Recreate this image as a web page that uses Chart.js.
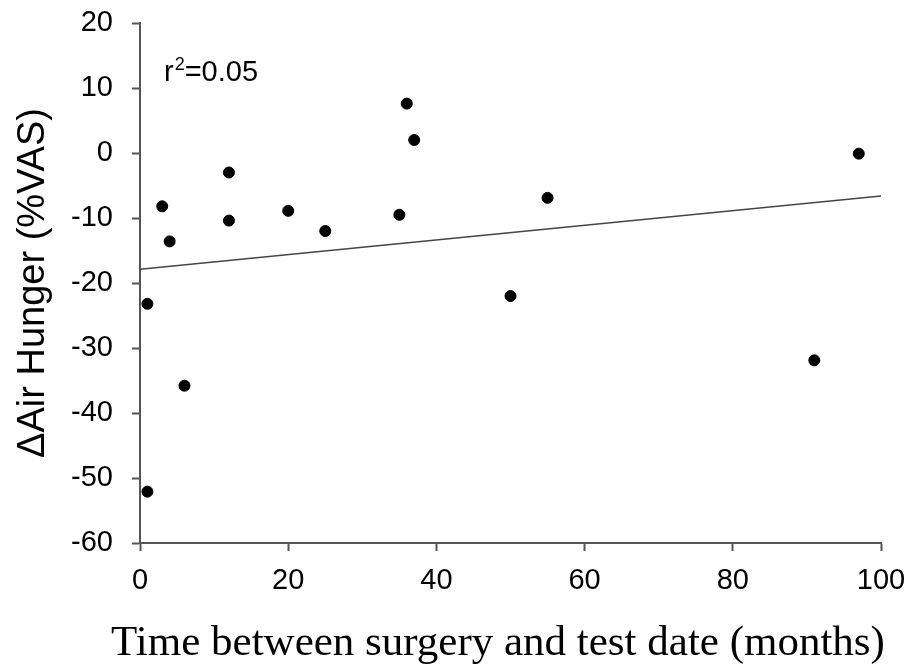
<!DOCTYPE html>
<html>
<head>
<meta charset="utf-8">
<script src="https://cdn.jsdelivr.net/npm/chart.js@4"></script>
<style>
  html, body { margin: 0; padding: 0; background: #fff; }
  #wrap { width: 914px; height: 671px; }
</style>
</head>
<body>
<div id="wrap"><canvas id="scatter" width="914" height="671"></canvas></div>
<script>
// --- Data ---
const months = [1, 1, 3, 4, 6, 12, 12, 20, 25, 35, 36, 37, 50, 55, 91, 97];
const deltaAirHunger = [-23.2, -52.1, -8.2, -13.6, -35.8, -3.0, -10.4, -8.9, -12.0, -9.5, 7.6, 2.0, -22.0, -6.9, -31.9, -0.1];
const fitEnds = [0, 100];
const fitValues = [-17.9, -6.6];
const xTicks = [0, 20, 40, 60, 80, 100];
const yTicks = [20, 10, 0, -10, -20, -30, -40, -50, -60];
const rSquaredLabel = '0.05';
const xTitle = 'Time between surgery and test date (months)';

const axisColor = '#555555';

// r² annotation (with superscript) and the x-axis title, which in the
// original is wider than the plot area so Chart.js would squeeze it
const textPlugin = {
  id: 'extraText',
  afterDatasetsDraw(chart) {
    const ctx = chart.ctx;
    ctx.save();
    ctx.fillStyle = '#000';
    ctx.textBaseline = 'alphabetic';
    ctx.textAlign = 'left';
    let x = 164, y = 81;
    ctx.font = '29px "Liberation Sans", Arial, sans-serif';
    ctx.fillText('r', x, y);
    x += ctx.measureText('r').width + 1;
    ctx.font = '18px "Liberation Sans", Arial, sans-serif';
    ctx.fillText('2', x, y - 11);
    x += ctx.measureText('2').width;
    ctx.font = '29px "Liberation Sans", Arial, sans-serif';
    ctx.fillText('=' + rSquaredLabel, x, y);

    ctx.textAlign = 'center';
    ctx.font = '43px "Liberation Serif", "Times New Roman", serif';
    ctx.fillText(xTitle, 498, 655);
    ctx.restore();
  }
};

const points = months.map((m, i) => ({ x: m, y: deltaAirHunger[i] }));
const fitLine = fitEnds.map((m, i) => ({ x: m, y: fitValues[i] }));

new Chart(document.getElementById('scatter').getContext('2d'), {
  type: 'scatter',
  data: {
    datasets: [
      {
        label: 'fit',
        type: 'line',
        data: fitLine,
        borderColor: '#444444',
        borderWidth: 1.5,
        pointRadius: 0,
        fill: false
      },
      {
        label: 'subjects',
        data: points,
        backgroundColor: '#000',
        borderColor: '#000',
        pointRadius: 5.5,
        pointHoverRadius: 5.5
      }
    ]
  },
  options: {
    responsive: false,
    animation: false,
    events: [],
    layout: { padding: { top: 23, right: 33, bottom: 0, left: 0 } },
    plugins: {
      legend: { display: false },
      tooltip: { enabled: false }
    },
    scales: {
      x: {
        type: 'linear',
        min: 0,
        max: 100,
        afterFit(scale) {
          scale.height = 128;
          scale.paddingLeft = 0;
          scale.paddingRight = 0;
        },
        afterBuildTicks(scale) { scale.ticks = xTicks.map(v => ({ value: v })); },
        border: { display: true, color: axisColor, width: 2 },
        grid: { drawOnChartArea: false, drawTicks: true, tickLength: 8, tickColor: axisColor, tickWidth: 2 },
        ticks: {
          color: '#000',
          padding: 13,
          maxRotation: 0,
          font: { family: '"Liberation Sans", Arial, sans-serif', size: 29 }
        },
        title: { display: false }
      },
      y: {
        type: 'linear',
        min: -60,
        max: 20,
        afterFit(scale) {
          scale.width = 140;
          scale.paddingTop = 0;
          scale.paddingBottom = 0;
        },
        afterBuildTicks(scale) { scale.ticks = yTicks.map(v => ({ value: v })); },
        border: { display: true, color: axisColor, width: 2 },
        grid: { drawOnChartArea: false, drawTicks: true, tickLength: 8, tickColor: axisColor, tickWidth: 2 },
        ticks: {
          color: '#000',
          padding: 19,
          font: { family: '"Liberation Sans", Arial, sans-serif', size: 29 }
        },
        title: {
          display: true,
          text: '\u0394Air Hunger (%VAS)',
          color: '#000',
          padding: { top: 11, bottom: 0 },
          font: { family: '"Liberation Sans", Arial, sans-serif', size: 38 }
        }
      }
    }
  },
  plugins: [textPlugin]
});
</script>
</body>
</html>
